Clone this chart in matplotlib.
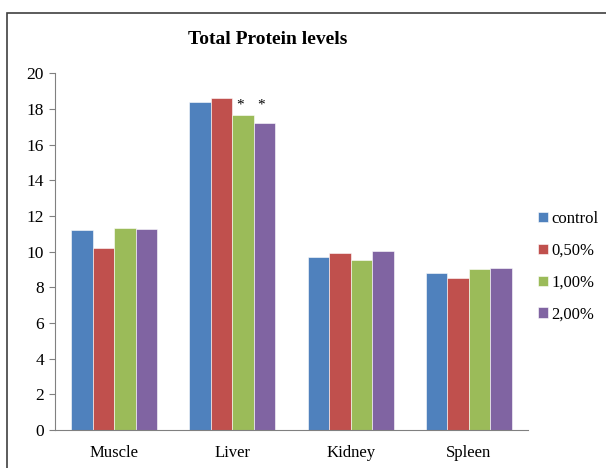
import numpy as np
import matplotlib.pyplot as plt
from matplotlib.patches import Rectangle

# data
organs = ['Muscle', 'Liver', 'Kidney', 'Spleen']
groups = ['control', '0,50%', '1,00%', '2,00%']
control = [11.2, 18.4, 9.7, 8.8]
dose_050 = [10.2, 18.6, 9.95, 8.5]
dose_100 = [11.3, 17.65, 9.55, 9.0]
dose_200 = [11.25, 17.2, 10.05, 9.1]
colors = ['#4F81BD', '#C0504D', '#9BBB59', '#8064A2']

plt.rcParams['font.family'] = ['Liberation Serif', 'DejaVu Serif']

fig = plt.figure(figsize=(6.06, 4.68), dpi=100)
fig.patches.append(Rectangle((7 / 606, -0.05), 1.1, 1 - 13 / 468 + 0.05,
                             transform=fig.transFigure, fill=False,
                             edgecolor='#404040', linewidth=1.2))
ax = fig.add_axes([55 / 606, 1 - 430 / 468, (528 - 55) / 606, (430 - 73.3) / 468])

x = np.arange(len(organs))
w = 0.182
series = [control, dose_050, dose_100, dose_200]
for i, vals in enumerate(series):
    ax.bar(x + (i - 1.5) * w, vals, w, color=colors[i], label=groups[i],
           edgecolor='white', linewidth=0.4)

# significance stars on Liver
for i in (2, 3):
    ax.text(1 + (i - 1.5) * w - 0.03, 18.2, '*', ha='center', va='center', fontsize=11)

ax.set_xlim(-0.5, 3.5)
ax.set_ylim(0, 20)
ax.set_yticks(np.arange(0, 21, 2))
ax.set_xticks(x)
ax.set_xticklabels(organs)
ax.tick_params(axis='x', length=0, labelsize=12, pad=11)
ax.tick_params(axis='y', length=4, color='#808080', labelsize=12.5, pad=4)
for s in ('top', 'right'):
    ax.spines[s].set_visible(False)
for s in ('left', 'bottom'):
    ax.spines[s].set_color('#808080')

fig.text(268 / 606, 1 - 40 / 468, 'Total Protein levels', ha='center', va='center',
         fontsize=14, fontweight='bold')

ax.legend(loc='upper left', bbox_to_anchor=(538 / 606, 1 - 211 / 468),
          bbox_transform=fig.transFigure, frameon=False, fontsize=12,
          handlelength=0.6, handleheight=0.6, handletextpad=0.2,
          labelspacing=0.95, borderaxespad=0, borderpad=0)

fig.savefig('out.png', dpi=100)
